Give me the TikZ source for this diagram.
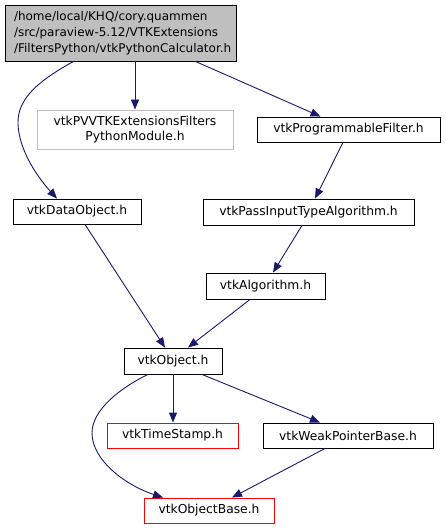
\documentclass[tikz,border=0pt]{standalone}
\usepackage{fontspec}
\setmainfont{DejaVu Sans}
\usetikzlibrary{arrows.meta,calc}
\definecolor{edgeblue}{HTML}{191970}
\definecolor{rootfill}{HTML}{BFBFBF}
\begin{document}
\begin{tikzpicture}[x=1pt,y=-1pt,
  box/.style={draw=black,fill=white,line width=0.9pt,inner sep=0pt,font=\fontsize{12.3}{15.5}\selectfont,align=center},
  graybox/.style={box,draw=rootfill},
  redbox/.style={box,draw=red},
  conn/.style={draw=edgeblue,line width=0.9pt,-{Triangle[length=10pt,width=8pt]}}]
\useasboundingbox (0,0) rectangle (446,529);
\fill[white] (0,0) rectangle (446,529);
\node[box,fill=rootfill,minimum width=231pt,minimum height=56pt,align=left,text width=213pt,font=\fontsize{12}{15.7}\selectfont] (root) at (120.5,33) {/home/local/KHQ/cory.quammen\\/src/paraview-5.12/VTKExtensions\\/FiltersPython/vtkPythonCalculator.h};
\node[graybox,minimum width=196pt,minimum height=39pt] (pv) at (135,129.5) {vtkPVVTKExtensionsFilters\\PythonModule.h};
\node[box,minimum width=183pt,minimum height=25pt] (prog) at (348.5,129.5) {vtkProgrammableFilter.h};
\node[box,minimum width=211pt,minimum height=26pt] (pass) at (308.5,212) {vtkPassInputTypeAlgorithm.h};
\node[box,minimum width=119pt,minimum height=26pt] (alg) at (265.5,286) {vtkAlgorithm.h};
\node[box,minimum width=128pt,minimum height=25pt] (dobj) at (77,211.5) {vtkDataObject.h};
\node[box,minimum width=98pt,minimum height=26pt] (obj) at (173,361) {vtkObject.h};
\node[redbox,minimum width=131pt,minimum height=25pt] (ts) at (172.5,435.5) {vtkTimeStamp.h};
\node[box,minimum width=170pt,minimum height=25pt] (wp) at (348,435.5) {vtkWeakPointerBase.h};
\node[redbox,minimum width=130pt,minimum height=25pt] (ob) at (209,510.5) {vtkObjectBase.h};

\draw[conn] ([xshift=14.5pt]root.south) -- (pv.north);
\draw[conn] ([xshift=75pt]root.south) -- ([xshift=-28pt]prog.north);
\draw[conn] ([xshift=-47pt]root.south) .. controls (40,80) and (17,98) .. (18,124) .. controls (19,152) and (40,180) .. ([xshift=-20pt]dobj.north);
\draw[conn] ([xshift=-5.5pt]prog.south) -- ([xshift=6.5pt]pass.north);
\draw[conn] ([xshift=-6.5pt]pass.south) -- ([xshift=7.5pt]alg.north);
\draw[conn] ([xshift=8pt]dobj.south) -- ([xshift=-8pt]obj.north);
\draw[conn] ([xshift=-15.5pt]alg.south) -- ([xshift=15pt]obj.north);
\draw[conn] (obj.south) -- ([xshift=0.5pt]ts.north);
\draw[conn] ([xshift=29pt]obj.south) -- ([xshift=-28pt]wp.north);
\draw[conn] ([xshift=-25pt]obj.south) .. controls (120,388) and (92,410) .. (92,433) .. controls (92,460) and (125,485) .. ([xshift=-46pt]ob.north);
\draw[conn] ([xshift=-23pt]wp.south) -- ([xshift=23pt]ob.north);
\end{tikzpicture}
\end{document}
